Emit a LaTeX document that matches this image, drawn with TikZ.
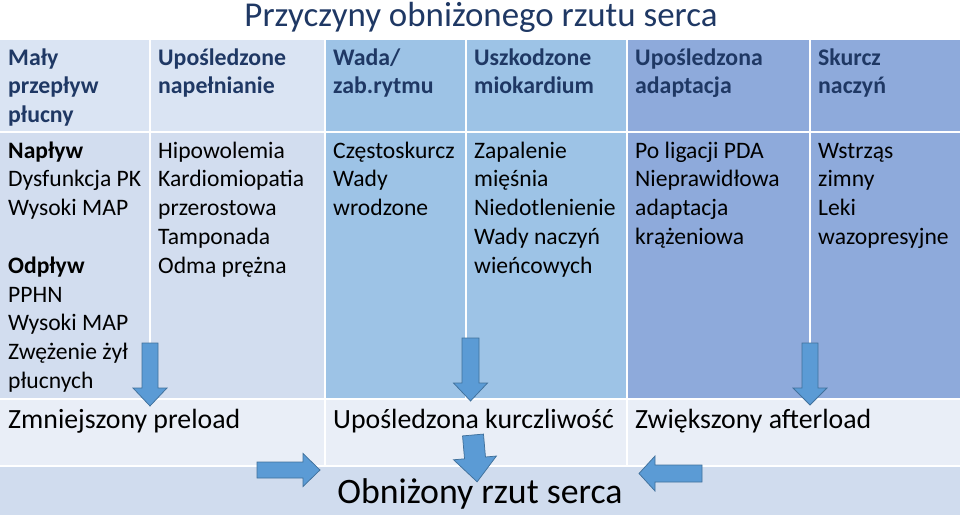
\documentclass[tikz,border=0pt]{standalone}
\usepackage{fontspec}
\setmainfont{Carlito}
\usetikzlibrary{positioning}

\definecolor{navy}{HTML}{1F3864}
\definecolor{hdrlight}{HTML}{DAE4F3}
\definecolor{bodylight}{HTML}{D2DDEF}
\definecolor{midblue}{HTML}{9DC3E6}
\definecolor{darkblue}{HTML}{8EAADB}
\definecolor{rowpale}{HTML}{E9EEF7}
\definecolor{rowbase}{HTML}{D0DCEE}
\definecolor{arrowfill}{HTML}{5B9BD5}
\definecolor{arrowline}{HTML}{41719C}

\tikzset{
  cell/.style={align=left, anchor=north west, inner sep=0pt, font=\fontsize{23.6}{28.8}\selectfont},
  head/.style={cell, text=navy, font=\fontsize{23.8}{28.8}\selectfont\bfseries},
  effect/.style={anchor=base west, inner sep=0pt, font=\fontsize{27.8}{32}\selectfont},
  pics/blockarrow/.style n args={4}{code={
    \draw[fill=arrowfill, draw=arrowline, line width=0.75pt]
      (-#2,0) -- (#2,0) -- (#2,#1-#4) -- (#3,#1-#4) -- (0,#1)
      -- (-#3,#1-#4) -- (-#2,#1-#4) -- cycle;}}
}

\begin{document}
\begin{tikzpicture}[x=1pt, y=-1pt]
                \useasboundingbox (0,0) rectangle (960,519);
                \fill[white] (0,0) rectangle (960,519);

                % Title
                \node[anchor=base, inner sep=0pt, text=navy, font=\fontsize{34.9}{40}\selectfont] (title) at (481,27) {Przyczyny obniżonego rzutu serca};

                % Header row and causes row
                \foreach \xa/\xb/\hc/\bc in {0/149/hdrlight/bodylight, 151/324/hdrlight/bodylight,
                    326/465/midblue/midblue, 467/626/midblue/midblue,
                    628/809/darkblue/darkblue, 811/960/darkblue/darkblue} {
                    \fill[\hc] (\xa,40) rectangle (\xb,131);
                    \fill[\bc] (\xa,133) rectangle (\xb,398);
                }

                % Effects row
                \fill[rowpale] (0,400) rectangle (324,465);
                \fill[rowpale] (326,400) rectangle (626,465);
                \fill[rowpale] (628,400) rectangle (960,465);

                % Result row
                \fill[rowbase] (0,467) rectangle (960,515);

                % Column headers
                \node[head] (hflow) at (8,44.8) {\strut Mały\\przepływ\\płucny};
                \node[head] (hfill) at (158,44.8) {\strut Upośledzone\\napełnianie};
                \node[head] (hrhythm) at (333,44.8) {\strut Wada/\\zab.rytmu};
                \node[head] (hmyo) at (474,44.8) {\strut Uszkodzone\\miokardium};
                \node[head] (hadapt) at (635,44.8) {\strut Upośledzona\\adaptacja};
                \node[head] (hvaso) at (818,44.8) {\strut Skurcz\\naczyń};

                % Causes
                \node[cell] (bflow) at (8,137.8) {\strut\textbf{Napływ}\\Dysfunkcja PK\\Wysoki MAP\\ \\\textbf{Odpływ}\\PPHN\\Wysoki MAP\\Zwężenie żył\\płucnych};
                \node[cell] (bfill) at (158,137.8) {\strut Hipowolemia\\Kardiomiopatia\\przerostowa\\Tamponada\\Odma prężna};
                \node[cell] (brhythm) at (333,137.8) {\strut Częstoskurcz\\Wady\\wrodzone};
                \node[cell] (bmyo) at (474,137.8) {\strut Zapalenie\\mięśnia\\Niedotlenienie\\Wady naczyń\\wieńcowych};
                \node[cell] (badapt) at (635,137.8) {\strut Po ligacji PDA\\Nieprawidłowa\\adaptacja\\krążeniowa};
                \node[cell] (bvaso) at (818,137.8) {\strut Wstrząs\\zimny\\Leki\\wazopresyjne};

                % Effects
                \node[effect] (preload) at (8,428) {Zmniejszony preload};
                \node[effect] (contract) at (333,428) {Upośledzona kurczliwość};
                \node[effect] (afterload) at (635,428) {Zwiększony afterload};

                % Result
                \node[anchor=base, inner sep=0pt, font=\fontsize{35.8}{40}\selectfont] (output) at (480,503) {Obniżony rzut serca};

                % Block arrows
                \pic at (150,343) {blockarrow={63}{8}{17}{18}};
                \pic at (470.5,338) {blockarrow={63}{8.5}{17}{18}};
                \pic at (810,343) {blockarrow={62}{8}{17}{17}};
                \pic[rotate=90] at (257,470) {blockarrow={63}{8}{16.5}{17}};
                \pic[rotate=5] at (473,435) {blockarrow={47}{10.5}{21.5}{24}};
                \pic[rotate=-90] at (702,473.5) {blockarrow={63}{8.5}{17.5}{16}};
            \end{tikzpicture}
\end{document}
